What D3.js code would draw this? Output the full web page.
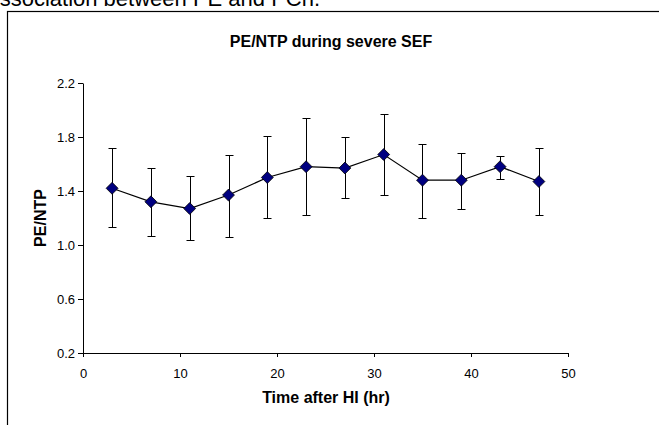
<!DOCTYPE html>
<html>
<head>
<meta charset="utf-8">
<script src="https://cdn.jsdelivr.net/npm/d3@7"></script>
<style>
  html, body { margin: 0; padding: 0; background: #fff; }
  svg { display: block; }
</style>
</head>
<body>
<svg id="chart" width="659" height="425" font-family="Liberation Sans, Arial, sans-serif"></svg>
<script>
(function() {
	'use strict';

	// hours after HI
	const hours = [3, 7, 11, 15, 19, 23, 27, 31, 35, 39, 43, 47];
	// PE/NTP mean and error bar ends
	const means = [1.42, 1.32, 1.27, 1.37, 1.50, 1.58, 1.57, 1.67, 1.48, 1.48, 1.58, 1.47];
	const lows  = [1.13, 1.07, 1.04, 1.06, 1.20, 1.22, 1.35, 1.37, 1.20, 1.27, 1.49, 1.22];
	const highs = [1.72, 1.57, 1.51, 1.67, 1.81, 1.94, 1.80, 1.97, 1.75, 1.68, 1.66, 1.72];

	const xTicks = [0, 10, 20, 30, 40, 50];
	const yTicks = [0.2, 0.6, 1.0, 1.4, 1.8, 2.2];

	const data = hours.map(function(h, i) {
		return { x: h, y: means[i], lo: lows[i], hi: highs[i] };
	});

	const svg = d3.select('#chart');

	// cut-off caption line at the very top
	svg.append('text')
		.attr('x', -15)
		.attr('y', 6)
		.attr('font-size', 22)
		.text('Association between PE and PCh.');

	// outer chart frame (runs off the right and bottom)
	svg.append('rect')
		.attr('x', 7.5)
		.attr('y', 11.5)
		.attr('width', 700)
		.attr('height', 500)
		.attr('fill', 'none')
		.attr('stroke', '#000')
		.attr('stroke-width', 1.2);

	const x = d3.scaleLinear().domain([0, 50]).range([83, 568]);
	const y = d3.scaleLinear().domain([0.2, 2.2]).range([353, 83]);

	svg.append('text')
		.attr('x', 331)
		.attr('y', 47)
		.attr('text-anchor', 'middle')
		.attr('font-size', 16)
		.attr('font-weight', 'bold')
		.text('PE/NTP during severe SEF');

	const xAxis = svg.append('g')
		.attr('transform', 'translate(0,' + y(0.2) + ')')
		.call(d3.axisBottom(x).tickValues(xTicks).tickSize(4).tickSizeOuter(0).tickFormat(d3.format('d')));

	const yAxis = svg.append('g')
		.attr('transform', 'translate(' + x(0) + ',0)')
		.call(d3.axisLeft(y).tickValues(yTicks).tickSize(5).tickSizeOuter(0).tickFormat(d3.format('.1f')));

	[xAxis, yAxis].forEach(function(g) {
		g.attr('font-family', null).attr('font-size', 13);
		g.selectAll('path, line').attr('stroke', '#000');
		g.selectAll('text').attr('fill', '#000');
	});
	xAxis.selectAll('text').attr('y', 16);
	yAxis.selectAll('text').attr('x', -8);

	svg.append('text')
		.attr('x', 326)
		.attr('y', 403)
		.attr('text-anchor', 'middle')
		.attr('font-size', 16)
		.attr('font-weight', 'bold')
		.text('Time after HI (hr)');

	svg.append('text')
		.attr('transform', 'translate(46,218) rotate(-90)')
		.attr('text-anchor', 'middle')
		.attr('font-size', 16)
		.attr('font-weight', 'bold')
		.text('PE/NTP');

	// error bars
	const bars = svg.append('g').attr('stroke', '#000').attr('stroke-width', 1);
	bars.selectAll('.eb')
		.data(data)
		.enter().append('path')
		.attr('fill', 'none')
		.attr('d', function(d) {
			const cx = Math.round(x(d.x)) + 0.5;
			const t = Math.round(y(d.hi)) + 0.5;
			const b = Math.round(y(d.lo)) + 0.5;
			return 'M' + (cx - 4) + ',' + t + 'H' + (cx + 4) +
				'M' + cx + ',' + t + 'V' + b +
				'M' + (cx - 4) + ',' + b + 'H' + (cx + 4);
		});

	const line = d3.line()
		.x(function(d) { return x(d.x); })
		.y(function(d) { return y(d.y); });

	svg.append('path')
		.datum(data)
		.attr('fill', 'none')
		.attr('stroke', '#000')
		.attr('stroke-width', 1.2)
		.attr('d', line);

	svg.append('g').selectAll('path')
		.data(data)
		.enter().append('path')
		.attr('transform', function(d) { return 'translate(' + x(d.x) + ',' + y(d.y) + ')'; })
		.attr('d', d3.symbol(d3.symbolDiamond2, 90))
		.attr('fill', '#000080')
		.attr('stroke', '#000')
		.attr('stroke-width', 0.8);
})();
</script>
</body>
</html>
